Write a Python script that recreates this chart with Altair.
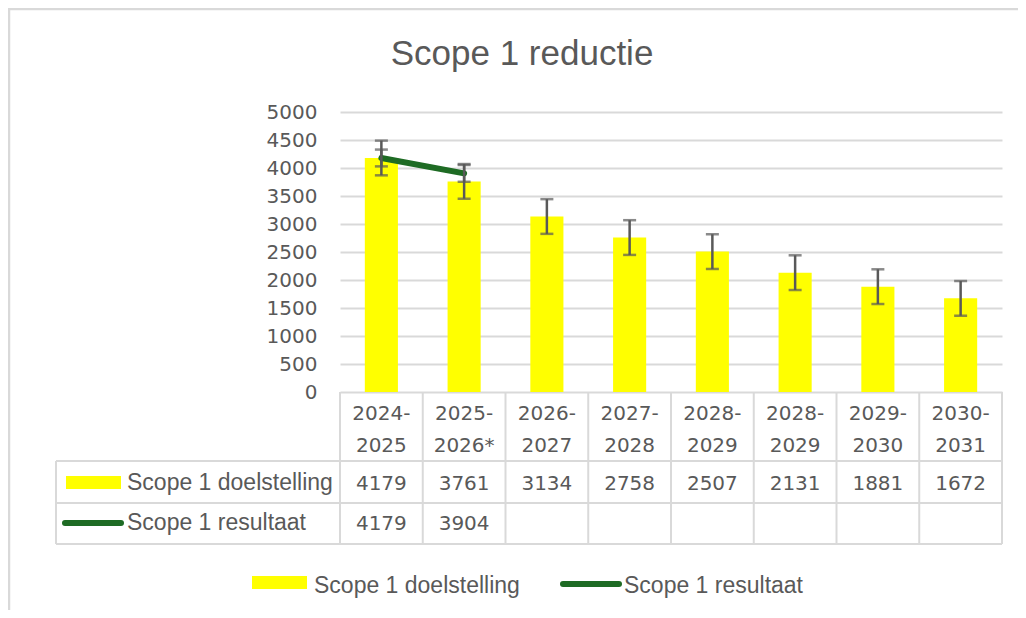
import altair as alt
import pandas as pd

# ---- data ----
periods = ["2024-2025", "2025-2026*", "2026-2027", "2027-2028",
           "2028-2029", "2028-2029", "2029-2030", "2030-2031"]
target = [4179, 3761, 3134, 2758, 2507, 2131, 1881, 1672]
result = [4179, 3904, None, None, None, None, None, None]
TARGET_ERR = 310
RESULT_ERR = 150
series_names = ["Scope 1 doelstelling", "Scope 1 resultaat"]
title_text = "Scope 1 reductie"
y_ticks = list(range(0, 5001, 500))

df = pd.DataFrame({
    "idx": list(range(len(periods))),
    "period": periods,
    "target": target,
    "result": result,
})
df["top"] = df["period"].str.split("-").str[0] + "-"
df["bottom"] = df["period"].str.split("-", n=1).str[1]
df["t_lo"] = df["target"] - TARGET_ERR
df["t_hi"] = df["target"] + TARGET_ERR
df["target_txt"] = df["target"].astype(str)
res = df.dropna(subset=["result"]).copy()
res["r_lo"] = res["result"] - RESULT_ERR
res["r_hi"] = res["result"] + RESULT_ERR
res["result_txt"] = res["result"].astype(int).astype(str)

GRAY = "#595959"
LINE = "#d9d9d9"
YELLOW = "#ffff00"
GREEN = "#1e6b24"
NUMFONT = "DejaVu Sans"
TXTFONT = "Liberation Sans"

W, H = 662, 280
xs = alt.Scale(paddingInner=0, paddingOuter=0)
X = alt.X("idx:O", scale=xs, axis=None)
X0 = alt.X("idx:O", scale=xs, axis=None, bandPosition=0)
yscale = alt.Scale(domain=[0, 5000])
yaxis = alt.Axis(values=y_ticks, tickCount=11, format="d", grid=True, gridColor=LINE,
                 gridWidth=2, domain=False, ticks=False, labelFont=NUMFONT,
                 labelFontSize=20, labelColor=GRAY, labelPadding=23,
                 labelOverlap=False, labelBound=False, title=None)


def Y(field):
    return alt.Y(field, scale=yscale, axis=yaxis)


base = alt.Chart(df)

bars = base.mark_bar(color=YELLOW, width={"band": 0.4}).encode(x=X, y=Y("target:Q"))

t_err = base.mark_rule(color=GRAY, strokeWidth=2.5).encode(
    x=X, y=Y("t_lo:Q"), y2="t_hi:Q")
t_cap_lo = base.mark_tick(color=GRAY, thickness=2.5, size=13).encode(x=X, y=Y("t_lo:Q"))
t_cap_hi = base.mark_tick(color=GRAY, thickness=2.5, size=13).encode(x=X, y=Y("t_hi:Q"))

rbase = alt.Chart(res)
line = rbase.mark_line(color=GREEN, strokeWidth=6, strokeCap="round").encode(
    x=X, y=Y("result:Q"))
r_err = rbase.mark_rule(color=GRAY, strokeWidth=2.5).encode(
    x=X, y=Y("r_lo:Q"), y2="r_hi:Q")
r_cap_lo = rbase.mark_tick(color=GRAY, thickness=2.5, size=13).encode(x=X, y=Y("r_lo:Q"))
r_cap_hi = rbase.mark_tick(color=GRAY, thickness=2.5, size=13).encode(x=X, y=Y("r_hi:Q"))

# ---- data table below the plot ----
numtext = dict(font=NUMFONT, fontSize=20, color=GRAY, align="center", baseline="alphabetic")
hdr1 = base.mark_text(**numtext).encode(x=X, y=alt.value(308), text="top:N")
hdr2 = base.mark_text(**numtext).encode(x=X, y=alt.value(340), text="bottom:N")
row1 = base.mark_text(**numtext).encode(x=X, y=alt.value(378), text="target_txt:N")
row2 = rbase.mark_text(**numtext).encode(x=X, y=alt.value(418), text="result_txt:N")

vlines = base.mark_rule(color=LINE, strokeWidth=2).encode(
    x=X0, y=alt.value(280), y2=alt.value(432))
one = alt.Chart(pd.DataFrame({"name": series_names[:1]}))
vline_end = one.mark_rule(color=LINE, strokeWidth=2).encode(
    x=alt.value(W), y=alt.value(280), y2=alt.value(432))
vline_left = one.mark_rule(color=LINE, strokeWidth=2).encode(
    x=alt.value(-284), y=alt.value(349), y2=alt.value(432))
hl1 = one.mark_rule(color=LINE, strokeWidth=2).encode(
    x=alt.value(-284), x2=alt.value(W), y=alt.value(349))
hl2 = one.mark_rule(color=LINE, strokeWidth=2).encode(
    x=alt.value(-284), x2=alt.value(W), y=alt.value(391))
hl3 = one.mark_rule(color=LINE, strokeWidth=2).encode(
    x=alt.value(-284), x2=alt.value(W), y=alt.value(432))

names = pd.DataFrame({"name": series_names})
n1 = alt.Chart(names).transform_filter(alt.datum.name == series_names[0])
n2 = alt.Chart(names).transform_filter(alt.datum.name == series_names[1])
txt = dict(font=TXTFONT, fontSize=23, color=GRAY, align="left", baseline="alphabetic")

tab_sw1 = n1.mark_rect(color=YELLOW).encode(
    x=alt.value(-274), x2=alt.value(-219), y=alt.value(364), y2=alt.value(377))
tab_t1 = n1.mark_text(**txt).encode(x=alt.value(-213), y=alt.value(378), text="name:N")
tab_sw2 = n2.mark_rule(color=GREEN, strokeWidth=6, strokeCap="round").encode(
    x=alt.value(-275), x2=alt.value(-219), y=alt.value(411))
tab_t2 = n2.mark_text(**txt).encode(x=alt.value(-213), y=alt.value(418), text="name:N")

# ---- bottom legend ----
leg_sw1 = n1.mark_rect(color=YELLOW).encode(
    x=alt.value(-88), x2=alt.value(-33), y=alt.value(464), y2=alt.value(477))
leg_t1 = n1.mark_text(**txt).encode(x=alt.value(-26), y=alt.value(481), text="name:N")
leg_sw2 = n2.mark_rule(color=GREEN, strokeWidth=6, strokeCap="round").encode(
    x=alt.value(223), x2=alt.value(279), y=alt.value(472))
leg_t2 = n2.mark_text(**txt).encode(x=alt.value(284), y=alt.value(481), text="name:N")

# ---- title & frame ----
tdf = alt.Chart(pd.DataFrame({"t": [title_text]}))
title = tdf.mark_text(font=TXTFONT, fontSize=35, color=GRAY, align="center",
                      baseline="alphabetic").encode(
    x=alt.value(182), y=alt.value(-47), text="t:N")
frame_left = tdf.mark_rule(color=LINE, strokeWidth=2.5).encode(
    x=alt.value(-331), y=alt.value(-104), y2=alt.value(520))
frame_top = tdf.mark_rule(color=LINE, strokeWidth=2.5).encode(
    x=alt.value(-331), x2=alt.value(700), y=alt.value(-103))

chart = alt.layer(
    bars, t_err, t_cap_lo, t_cap_hi,
    line, r_err, r_cap_lo, r_cap_hi,
    frame_left, frame_top, title,
    vlines, vline_end, vline_left, hl1, hl2, hl3,
    hdr1, hdr2, row1, row2,
    tab_sw1, tab_t1, tab_sw2, tab_t2,
    leg_sw1, leg_t1, leg_sw2, leg_t2,
).properties(
    width=W, height=H,
    autosize=alt.AutoSizeParams(type="none"),
    padding={"left": 332, "top": 104, "right": 16, "bottom": 218},
    background="white",
).configure_view(stroke=None)

chart.save("out.html", embed_options={"renderer": "svg", "actions": False})
